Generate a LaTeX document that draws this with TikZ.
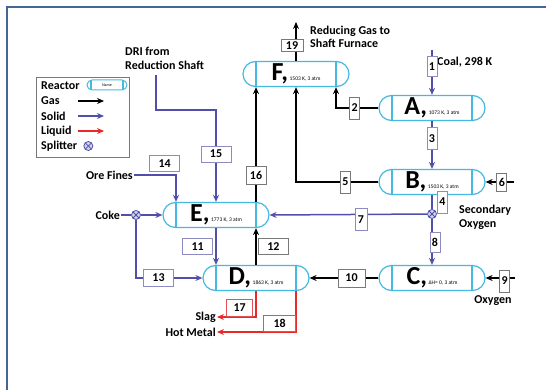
\documentclass[tikz,border=0pt]{standalone}
\usepackage{fontspec}
\setmainfont{Carlito}
\usepackage{tikz}
\usetikzlibrary{calc, shapes.misc, positioning, arrows.meta}

\definecolor{reactorcyan}{RGB}{70,185,225}
\definecolor{solidblue}{RGB}{80,80,170}
\definecolor{liquidred}{RGB}{235,40,40}
\definecolor{boxgray}{RGB}{120,120,120}
\definecolor{boxblue}{RGB}{140,140,195}
\definecolor{boxred}{RGB}{230,80,80}
\definecolor{framecol}{RGB}{70,100,150}

\tikzset{
    reactor/.style={
        rounded rectangle, draw=reactorcyan, fill=white,
        line width=1.2pt, minimum width=106pt, minimum height=25pt,
        inner sep=0pt,
        path picture={
            \draw[reactorcyan, line width=1.2pt]
                ([xshift=#1]path picture bounding box.north west) --
                ([xshift=#1]path picture bounding box.south west)
                ([xshift=-#1]path picture bounding box.north east) --
                ([xshift=-#1]path picture bounding box.south east);
        }
    },
    reactor/.default=13pt,
    splitter/.style={
        circle, draw=solidblue, fill=solidblue!25, line width=0.8pt,
        minimum size=9pt, inner sep=0pt,
        path picture={
            \draw[solidblue, line width=0.8pt]
                (path picture bounding box.north west) --
                (path picture bounding box.south east)
                (path picture bounding box.north east) --
                (path picture bounding box.south west);
        }
    },
    gasline/.style={draw=black, line width=1.5pt},
    solidline/.style={draw=solidblue, line width=1.5pt},
    liquidline/.style={draw=liquidred, line width=1.5pt},
    numbox/.style={
        draw=boxgray, fill=white, line width=0.8pt, inner sep=0pt,
        font=\bfseries\fontsize{12}{12}\selectfont
    },
    widebox/.style={numbox, minimum width=30pt, minimum height=16pt},
    tallbox/.style={numbox, minimum width=10pt, minimum height=22pt},
    lbl/.style={font=\bfseries\fontsize{12}{13.5}\selectfont, align=left, inner sep=1pt}
}

\newcommand{\rlabel}[2]{%
    {\bfseries\fontsize{26}{26}\selectfont #1}\,{\fontsize{5.5}{6}\selectfont #2}}

\begin{document}
\begin{tikzpicture}[x=1pt, y=-1pt, >={Stealth[length=7pt, width=6pt]}]

    \useasboundingbox (0,0) rectangle (546,390);

    % Khung
    \draw[framecol, line width=1.2pt] (7,390) -- (7,7) -- (546,7);

    % 1. Lò phản ứng
    \node[reactor] (F) at (296,74) {\rlabel{F,}{1503 K, 3 atm}};
    \node[reactor] (A) at (432,108) {\rlabel{A,}{1073 K, 3 atm}};
    \node[reactor] (B) at (432,182) {\rlabel{B,}{1503 K, 3 atm}};
    \node[reactor] (C) at (432,278) {\rlabel{C,}{ΔH= 0, 3 atm}};
    \node[reactor] (D) at (256,278) {\rlabel{D,}{1863 K, 3 atm}};
    \node[reactor] (E) at (216,215) {\rlabel{E,}{1773 K, 3 atm}};

    % 2. Bộ chia dòng
    \node[splitter] (S1) at (136,215) {};
    \node[splitter] (S2) at (432,214) {};

    % 3. Nhãn
    \node[lbl, anchor=north west] (dri) at (124,46) {DRI from\\Reduction Shaft};
    \node[lbl, anchor=west] (redgas) at (309,37) {Reducing Gas to\\Shaft Furnace};
    \node[lbl, anchor=west] (coal) at (436,62) {Coal, 298 K};
    \node[lbl, anchor=north west] (secox) at (458,204) {Secondary\\Oxygen};
    \node[lbl, anchor=north] (oxy) at (493,294) {Oxygen};
    \node[lbl, anchor=east] (ore) at (134,175) {Ore Fines};
    \node[lbl, anchor=east] (coke) at (121,215) {Coke};
    \node[lbl, anchor=east] (slag) at (217,317) {Slag};
    \node[lbl, anchor=east] (hotmetal) at (217,332) {Hot Metal};

    % Đầu tự do của các dòng
    \coordinate (coaltop) at (432,50);
    \coordinate (drib) at (156,75);
    \coordinate (dric) at (216,110);
    \coordinate (sixin) at (514,182);
    \coordinate (ninein) at (515,278);
    \coordinate (gastop) at (296,22);

    % 4. Dòng khí
    \draw[gasline, ->]
        (A.west) -| node[tallbox, pos=0.28] {2}
        ($(F.south)+(40,0)$);

    \draw[gasline, ->]
        (B.west) -| node[tallbox, pos=0.2] {5}
        (F.south);

    \draw[gasline, ->]
        (sixin) -- node[tallbox, minimum height=18pt, pos=0.43] {6}
        (B.east);

    \draw[gasline, ->]
        (ninein) -- node[tallbox, pos=0.35, yshift=-3pt] {9}
        (C.east);

    \draw[gasline, ->]
        (C.west) -- node[widebox, minimum width=27pt, minimum height=18pt, pos=0.39] {10}
        (D.east);

    \draw[gasline, ->]
        (D.north) -- node[widebox, anchor=west, xshift=2pt] {12}
        ($(E.south)+(40,0)$);

    \draw[gasline, ->]
        ($(E.north)+(40,0)$) -- node[widebox, minimum width=20pt, minimum height=18pt, pos=0.23] {16}
        ($(F.south)+(-40,0)$);

    \draw[gasline, ->]
        (F.north) -- node[widebox, minimum width=22pt, minimum height=12pt, xshift=-4pt, pos=0.4] {19}
        (gastop);

    % 5. Dòng rắn
    \draw[solidline, ->]
        (coaltop) -- node[tallbox, draw=boxblue, minimum height=20pt, pos=0.37] {1}
        (A.north);

    \draw[solidline, ->]
        (A.south) -- node[tallbox, draw=boxblue, pos=0.37] {3}
        (B.north);

    \draw[solidline]
        (B.south) -- node[tallbox, draw=boxblue, anchor=west, xshift=5pt] {4}
        (S2);

    \draw[solidline, ->]
        (S2) -- node[tallbox, draw=boxblue, minimum width=12pt, pos=0.42, yshift=-5pt] {7}
        (E.east);

    \draw[solidline, ->]
        (S2) -- node[tallbox, draw=boxblue, minimum height=20pt, pos=0.52, xshift=3pt] {8}
        (C.north);

    \draw[solidline, ->]
        (E.south) -- node[widebox, draw=boxblue, anchor=east, xshift=-3pt] {11}
        ($(D.north)+(-40,0)$);

    \draw[solidline] (coke) -- (S1);
    \draw[solidline, ->] (S1) -- (E.west);

    \draw[solidline, ->]
        (S1) |- node[widebox, draw=boxblue, minimum height=17pt, pos=0.67] {13}
        (D.west);

    \draw[solidline, ->]
        (ore) -| node[widebox, draw=boxblue, anchor=south east, xshift=4pt, yshift=3pt] {14}
        ($(E.north)+(-40,0)$);

    \draw[solidline, ->]
        (drib) |- (dric) -- node[widebox, draw=boxblue, pos=0.48] {15}
        (E.north);

    % 6. Dòng lỏng
    \draw[liquidline, ->]
        (D.south) |- node[widebox, draw=boxred, minimum width=26pt, minimum height=17pt,
            anchor=south east, xshift=-3pt, pos=0.5] {17}
        (slag);

    \draw[liquidline, ->]
        ($(D.south)+(40,0)$) |- node[widebox, draw=boxred, minimum width=32pt,
            anchor=south east, pos=0.5] {18}
        (hotmetal);

    % 7. Chú thích
    \node[draw=boxgray, line width=1pt, minimum width=93pt, minimum height=80pt,
        anchor=north west, inner sep=0pt] (legend) at (36,77) {};

    \node[lbl, anchor=west] (lreactor) at (40,86) {Reactor};
    \node[reactor=4pt, minimum width=40pt, minimum height=10pt, line width=1pt]
        (lname) at (107,85) {\fontsize{4}{4}\selectfont Name};

    \foreach \name/\kind/\yy in {Gas/gasline/101, Solid/solidline/116, Liquid/liquidline/131} {
        \node[lbl, anchor=west] (l\name) at (40,\yy) {\name};
        \draw[\kind, line width=1.8pt, ->] (78,\yy) -- ++(26,0);
    }

    \node[lbl, anchor=west] (lsplit) at (40,146) {Splitter};
    \node[splitter, right=5pt of lsplit] (lsplitter) {};

\end{tikzpicture}
\end{document}
